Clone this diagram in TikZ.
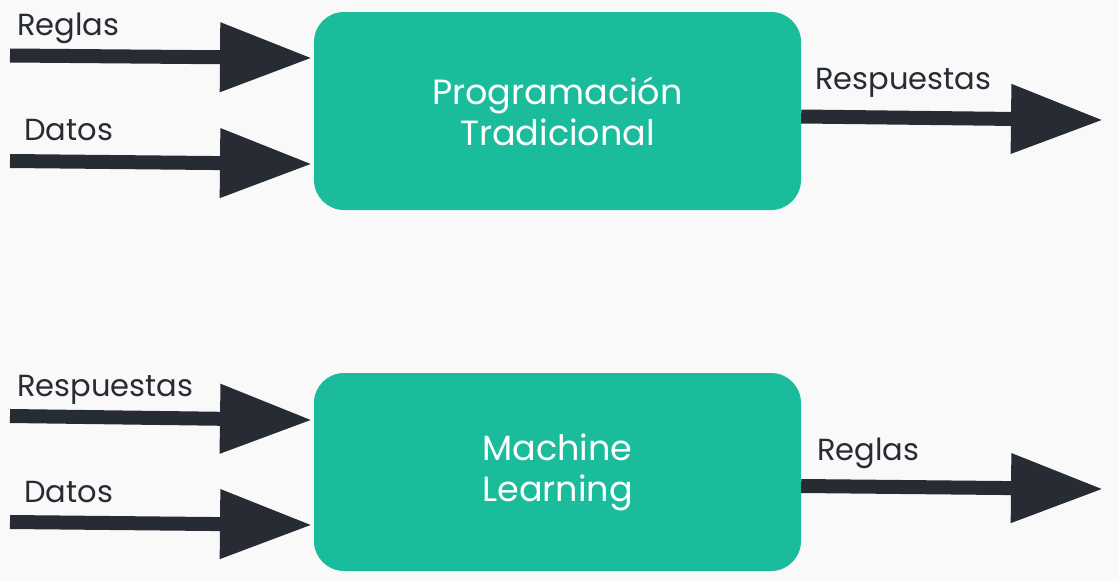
\documentclass[tikz,border=0pt]{standalone}
\usepackage{fontspec}
\setmainfont{Poppins}
\usetikzlibrary{arrows.meta}
\definecolor{teal}{HTML}{1ABC9C}
\definecolor{ink}{HTML}{272B33}
\definecolor{bg}{HTML}{F9F9F9}
\tikzset{
  box/.style={fill=teal, rounded corners=30pt, minimum width=487pt, minimum height=198pt,
    text=white, align=center, font=\fontsize{35}{41}\selectfont, inner sep=0pt},
  flow/.style={draw=ink, line width=14pt, -{Triangle[length=92pt,width=66pt]}},
  lbl/.style={anchor=base west, text=ink, font=\fontsize{30.5}{36}\selectfont, inner sep=0pt}
}
\begin{document}
\begin{tikzpicture}[x=1pt,y=-1pt]
\fill[bg] (0,0) rectangle (1119,581);
\useasboundingbox (0,0) rectangle (1119,581);

\node[box] (pt) at (557.5,111) {Programación\\Tradicional};
\node[box] (ml) at (557.5,472) {Machine\\Learning};

% top inputs
\coordinate (a1) at (10,55.5);
\coordinate (a1t) at (312,58);
\coordinate (a2) at (10,161);
\coordinate (a2t) at (312,164);
\coordinate (o1t) at (1103,120);
% bottom inputs
\coordinate (b1) at (10,416);
\coordinate (b1t) at (312,420);
\coordinate (b2) at (10,522);
\coordinate (b2t) at (312,525);
\coordinate (o2t) at (1103,489);

\draw[flow] (a1) -- (a1t);
\draw[flow] (a2) -- (a2t);
\draw[flow] (pt.east |- 0,116.5) -- (o1t);
\draw[flow] (b1) -- (b1t);
\draw[flow] (b2) -- (b2t);
\draw[flow] (ml.east |- 0,486) -- (o2t);

\node[lbl] (l1) at (17,35) {Reglas};
\node[lbl] (l2) at (24,140) {Datos};
\node[lbl] (l3) at (815,89) {Respuestas};
\node[lbl] (l4) at (17,396) {Respuestas};
\node[lbl] (l5) at (24,502) {Datos};
\node[lbl] (l6) at (817,460) {Reglas};
\end{tikzpicture}
\end{document}
